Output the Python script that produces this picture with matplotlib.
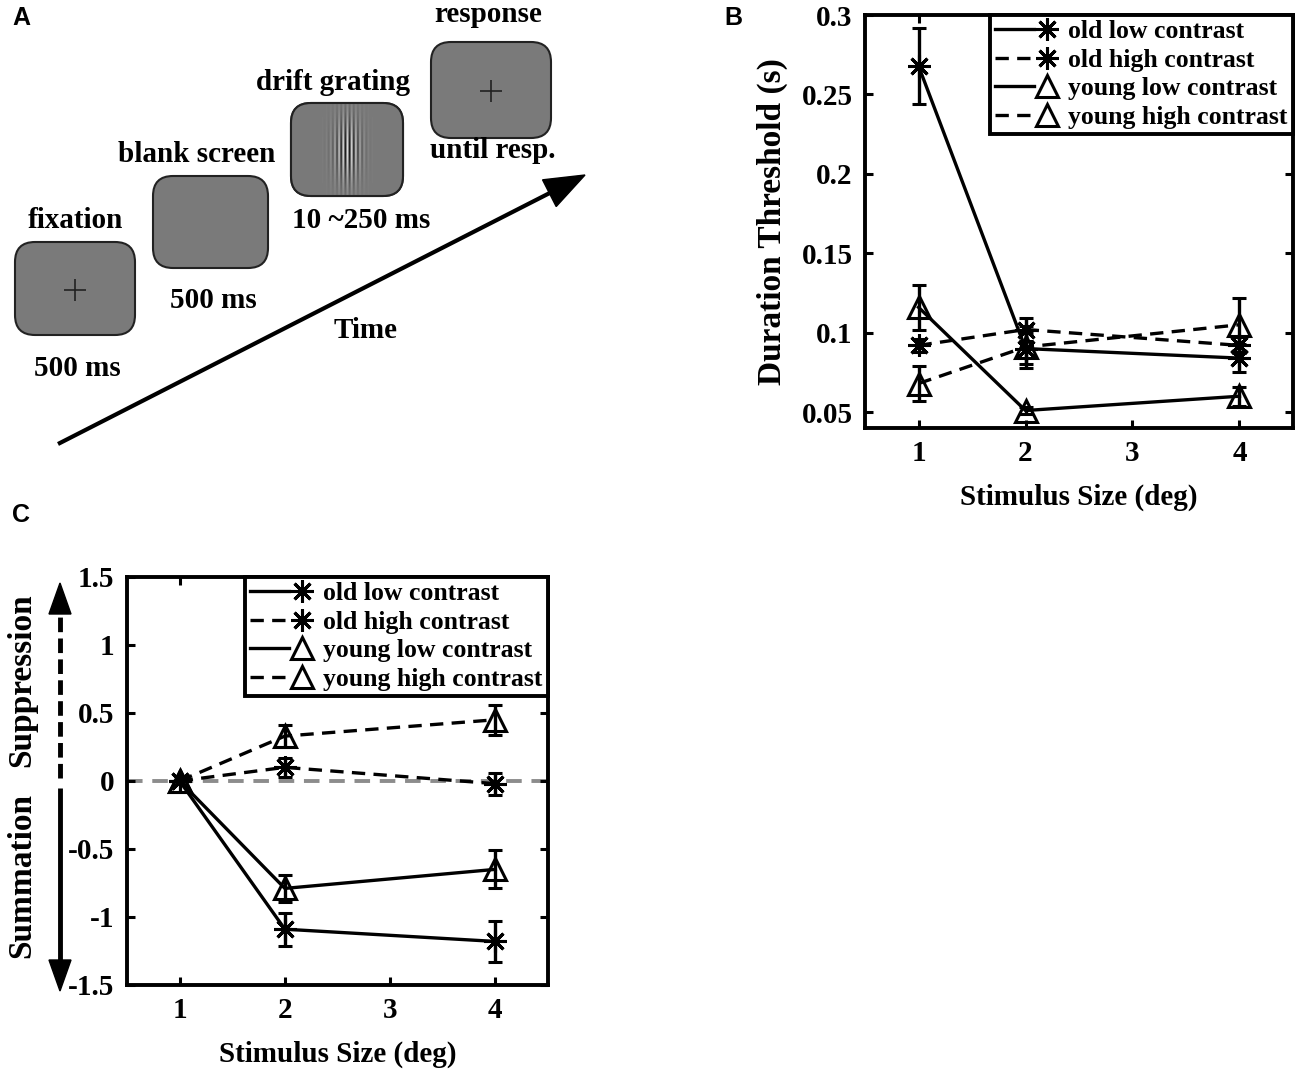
import matplotlib
matplotlib.use('Agg')
import matplotlib.pyplot as plt
import numpy as np
from matplotlib.legend_handler import HandlerLine2D
from matplotlib.lines import Line2D
from matplotlib.patches import FancyBboxPatch, Polygon

plt.rcParams['font.family'] = ['Liberation Serif', 'DejaVu Serif']
plt.rcParams['font.weight'] = 'bold'
plt.rcParams['axes.labelweight'] = 'bold'

# stimulus sizes in deg
sizes = [1, 2, 4]
size_ticks = [1, 2, 3, 4]
series_names = ['old low contrast', 'old high contrast',
                'young low contrast', 'young high contrast']

# panel B: duration threshold (s), mean and error
thr_old_low = [0.268, 0.090, 0.084]
thr_old_low_err = [0.024, 0.010, 0.009]
thr_old_high = [0.092, 0.102, 0.092]
thr_old_high_err = [0.004, 0.007, 0.005]
thr_young_low = [0.116, 0.051, 0.060]
thr_young_low_err = [0.014, 0.002, 0.006]
thr_young_high = [0.068, 0.091, 0.105]
thr_young_high_err = [0.011, 0.013, 0.017]
thr_ticks = [0.05, 0.1, 0.15, 0.2, 0.25, 0.3]
thr_tick_labels = ['0.05', '0.1', '0.15', '0.2', '0.25', '0.3']

# panel C: summation / suppression index
idx_old_low = [0.0, -1.09, -1.18]
idx_old_low_err = [0.0, 0.12, 0.15]
idx_old_high = [0.0, 0.10, -0.02]
idx_old_high_err = [0.0, 0.07, 0.08]
idx_young_low = [0.0, -0.79, -0.65]
idx_young_low_err = [0.0, 0.10, 0.14]
idx_young_high = [0.0, 0.33, 0.45]
idx_young_high_err = [0.0, 0.08, 0.11]
idx_ticks = [-1.5, -1, -0.5, 0, 0.5, 1, 1.5]
idx_tick_labels = ['-1.5', '-1', '-0.5', '0', '0.5', '1', '1.5']

# panel A: trial sequence
step_names = ['fixation', 'blank screen', 'drift grating', 'response']
step_times = ['500 ms', '500 ms', '10 ~250 ms', 'until resp.']

ASTER = (8, 2, 0)
styles = [dict(marker=ASTER, ls='-', ms=16),
          dict(marker=ASTER, ls=(0, (4, 2.5)), ms=16),
          dict(marker='^', ls='-', ms=16, mfc='none'),
          dict(marker='^', ls=(0, (4, 2.5)), ms=16, mfc='none')]


class LineThenMarker(HandlerLine2D):
    # matlab-like legend entry: line on the left, marker near the right end
    def create_artists(self, legend, orig_handle, xdescent, ydescent,
                       width, height, fontsize, trans):
        y = (height - ydescent) / 2
        line = Line2D([-xdescent, -xdescent + 0.6 * width], [y, y])
        self.update_prop(line, orig_handle, legend)
        line.set_marker('None')
        mark = Line2D([-xdescent + 0.8 * width], [y], ls='None')
        self.update_prop(mark, orig_handle, legend)
        mark.set_linestyle('None')
        line.set_transform(trans)
        mark.set_transform(trans)
        return [line, mark]


def setup_axes(ax, ticks, labels, ylim):
    ax.set_xlim(0.5, 4.5)
    ax.set_ylim(*ylim)
    ax.set_xticks(size_ticks)
    ax.set_yticks(ticks)
    ax.set_yticklabels(labels)
    ax.tick_params(direction='in', length=6, width=2.2, top=True, right=True,
                   labelsize=21, pad=9)
    for s in ax.spines.values():
        s.set_linewidth(2.8)
    ax.set_xlabel('Stimulus Size (deg)', fontsize=21, labelpad=12)


def draw_series(ax, values, errors):
    handles = []
    for v, e, st in zip(values, errors, styles):
        ax.errorbar(sizes, v, yerr=e, color='k', lw=2.4, mew=2.2, capsize=5,
                    capthick=2.4, elinewidth=2.4, zorder=3, **st)
        handles.append(Line2D([], [], color='k', lw=2.4, mew=2.2, **st))
    leg = ax.legend(handles, series_names, loc='upper right', borderaxespad=0,
                    fancybox=False, edgecolor='k', framealpha=1, fontsize=18.5,
                    handlelength=2.5, handletextpad=0.35, labelspacing=0.22,
                    borderpad=0.2, handler_map={Line2D: LineThenMarker()})
    leg.get_frame().set_linewidth(2.8)


fig = plt.figure(figsize=(13, 10.74), dpi=100)

# overlay in pixel coordinates for the schematic and annotations
ov = fig.add_axes([0, 0, 1, 1])
ov.set_xlim(0, 1300)
ov.set_ylim(1074, 0)
ov.axis('off')

boxes = [(15, 242, 120, 93), (153, 176, 115, 92), (291, 103, 112, 93), (431, 42, 120, 96)]
name_pos = [(75, 221), (197, 155), (333, 83), (488, 15)]
time_pos = [(77, 368), (213, 300), (361, 220), (493, 150)]
for i, (x0, y0, w, h) in enumerate(boxes):
    box = FancyBboxPatch((x0, y0), w, h, boxstyle='round,pad=0,rounding_size=20',
                         fc='#7a7a7a', ec='#222222', lw=1.5)
    ov.add_patch(box)
    if i in (0, 3):
        ov.plot(x0 + w / 2, y0 + h / 2 + 1, marker='+', ms=16, mew=1.2, color='#222222')
    if i == 2:
        gx = np.arange(w) - w / 2
        gy = np.arange(h) - h / 2
        X, Y = np.meshgrid(gx, gy)
        img = 0.478 + 0.38 * np.cos(2 * np.pi * X / 4.2) * \
            np.exp(-X ** 2 / (2 * 9 ** 2)) * np.exp(-Y ** 2 / (2 * 22 ** 2))
        im = ov.imshow(img, cmap='gray', vmin=0, vmax=1, extent=(x0, x0 + w, y0 + h, y0),
                       interpolation='bilinear', zorder=2)
        im.set_clip_path(box)
        edge = FancyBboxPatch((x0, y0), w, h, boxstyle='round,pad=0,rounding_size=20',
                              fc='none', ec='#222222', lw=1.5, zorder=3)
        ov.add_patch(edge)
    ov.text(*name_pos[i], step_names[i], fontsize=21, ha='center', va='center')
    ov.text(*time_pos[i], step_times[i], fontsize=21, ha='center', va='center')

# time arrow
tail = np.array([58.0, 444.0])
tip = np.array([585.0, 175.0])
d = (tip - tail) / np.linalg.norm(tip - tail)
n = np.array([-d[1], d[0]])
base = tip - 40 * d
ov.plot([tail[0], base[0]], [tail[1], base[1]], color='k', lw=3, solid_capstyle='butt')
ov.add_patch(Polygon([tip, base + 15 * n, base - 15 * n], closed=True, fc='k', ec='k'))
ov.text(366, 330, 'Time', fontsize=21, ha='center', va='center')

# panel letters
for lab, (x, y) in zip(['A', 'B', 'C'], [(21, 18), (733, 18), (21, 515)]):
    ov.text(x, y, lab, fontsize=18, fontweight='bold', family='Liberation Sans',
            ha='center', va='center')

# side arrow for panel C
ax_x = 60
ov.plot([ax_x, ax_x], [778, 612], color='k', lw=3.5, dashes=(3, 1.3))
ov.plot([ax_x, ax_x], [788, 962], color='k', lw=3.5, solid_capstyle='butt')
ov.add_patch(Polygon([(ax_x, 583), (ax_x - 11, 614), (ax_x + 11, 614)], fc='k', ec='k'))
ov.add_patch(Polygon([(ax_x, 991), (ax_x - 11, 960), (ax_x + 11, 960)], fc='k', ec='k'))
ov.text(22, 680, 'Suppression', rotation=90, fontsize=24, ha='center', va='center')
ov.text(22, 875, 'Summation', rotation=90, fontsize=24, ha='center', va='center')

# panel B
axb = fig.add_axes([0.6654, 0.6015, 0.3292, 0.3845])
setup_axes(axb, thr_ticks, thr_tick_labels, (0.04, 0.3))
axb.set_ylabel('Duration Threshold (s)', fontsize=24, labelpad=10)
draw_series(axb,
            [thr_old_low, thr_old_high, thr_young_low, thr_young_high],
            [thr_old_low_err, thr_old_high_err, thr_young_low_err, thr_young_high_err])

# panel C
axc = fig.add_axes([0.0977, 0.0829, 0.3238, 0.3799])
setup_axes(axc, idx_ticks, idx_tick_labels, (-1.5, 1.5))
axc.axhline(0, color='#8c8c8c', lw=2.8, dashes=(4, 2.5), zorder=1)
draw_series(axc,
            [idx_old_low, idx_old_high, idx_young_low, idx_young_high],
            [idx_old_low_err, idx_old_high_err, idx_young_low_err, idx_young_high_err])

fig.savefig('out.png', dpi=100)
